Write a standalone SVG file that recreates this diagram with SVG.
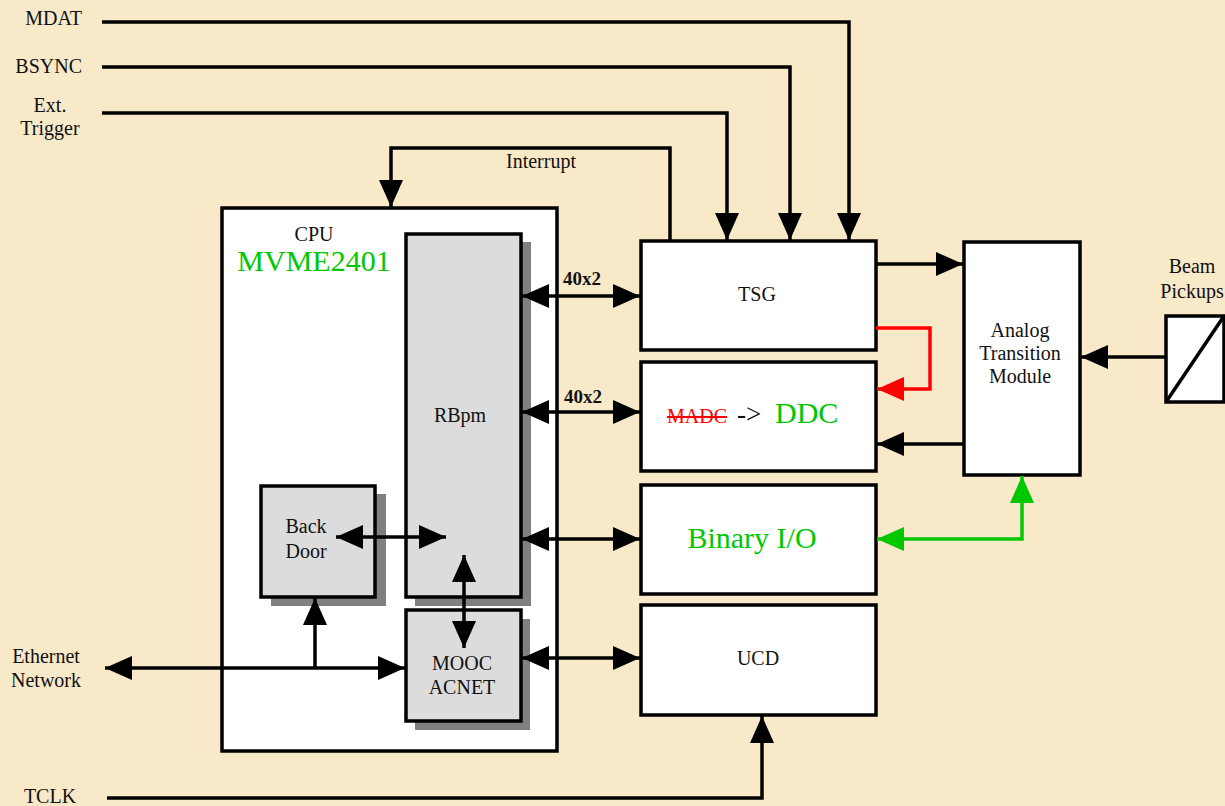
<svg xmlns="http://www.w3.org/2000/svg" width="1225" height="806" viewBox="0 0 1225 806">
<defs>
<style>
.t{font-family:'Liberation Serif','DejaVu Serif',serif;font-size:20px;fill:#111}
.box{fill:#fff;stroke:#000;stroke-width:3.5}
.gbox{fill:#DCDCDC;stroke:#000;stroke-width:3.5}
.shadow{fill:#808080}
.c{fill:none;stroke:#000;stroke-width:3.5}
.cr{fill:none;stroke:#FF0000;stroke-width:3.5}
.cg{fill:none;stroke:#00C800;stroke-width:3.5}
.mid{text-anchor:middle}
</style>
<marker id="ak" markerUnits="userSpaceOnUse" markerWidth="28" markerHeight="24" refX="27" refY="12" orient="auto-start-reverse"><path d="M0,0 L27,12 L0,24 z" fill="#000"/></marker>
<marker id="ar" markerUnits="userSpaceOnUse" markerWidth="28" markerHeight="24" refX="27" refY="12" orient="auto-start-reverse"><path d="M0,0 L27,12 L0,24 z" fill="#FF0000"/></marker>
<marker id="ag" markerUnits="userSpaceOnUse" markerWidth="28" markerHeight="24" refX="27" refY="12" orient="auto-start-reverse"><path d="M0,0 L27,12 L0,24 z" fill="#00C800"/></marker>
</defs>
<rect width="1225" height="806" fill="#F8E9C9"/>
<g class="t" font-family="'Liberation Serif', 'DejaVu Serif', serif">
<g id="labels">
<text x="82" y="25" text-anchor="end">MDAT</text>
<text x="82" y="73" text-anchor="end">BSYNC</text>
<text x="50" y="112" class="mid">Ext.</text>
<text x="50" y="135" class="mid">Trigger</text>
<text x="541" y="168" class="mid">Interrupt</text>
<text x="46" y="663" class="mid">Ethernet</text>
<text x="46" y="687" class="mid">Network</text>
<text x="50" y="803" class="mid">TCLK</text>
<text x="582" y="285" class="mid" font-weight="bold" font-size="19">40x2</text>
<text x="583" y="403" class="mid" font-weight="bold" font-size="19">40x2</text>
<text x="1192" y="273" class="mid">Beam</text>
<text x="1192" y="298" class="mid">Pickups</text>
</g>

<g id="cpu">
<rect class="box" x="222" y="208" width="335" height="543"/>
<text x="314" y="241" class="mid">CPU</text>
<text x="314" y="271" class="mid" font-size="30" fill="#00C800">MVME2401</text>
</g>
<g id="rbpm">
<rect class="shadow" x="415" y="242" width="116" height="364"/>
<rect class="gbox" x="406" y="234" width="115" height="363"/>
<text x="460" y="422" class="mid">RBpm</text>
</g>
<g id="backdoor">
<rect class="shadow" x="271" y="494" width="115" height="112"/>
<rect class="gbox" x="261" y="486" width="114" height="111"/>
<text x="306" y="533" class="mid">Back</text>
<text x="306" y="558" class="mid">Door</text>
</g>
<g id="mooc">
<rect class="shadow" x="415" y="619" width="115" height="111"/>
<rect class="gbox" x="406" y="610" width="115" height="111"/>
<text x="462" y="670" class="mid">MOOC</text>
<text x="462" y="694" class="mid">ACNET</text>
</g>
<g id="tsg">
<rect class="box" x="641" y="241" width="235" height="109"/>
<text x="757" y="301" class="mid">TSG</text>
</g>
<g id="ddc">
<rect class="box" x="641" y="362" width="235" height="109"/>
<text x="667" y="423" fill="#FF0000" text-decoration="line-through" style="fill:#FF0000">MADC</text>
<text x="737" y="423" font-size="27">-&gt;</text>
<text x="775" y="423" font-size="30" style="fill:#00C800">DDC</text>
</g>
<g id="binary">
<rect class="box" x="641" y="485" width="235" height="109"/>
<text x="752" y="548" class="mid" font-size="30" style="fill:#00C800">Binary I/O</text>
</g>
<g id="ucd">
<rect class="box" x="641" y="605" width="235" height="110"/>
<text x="758" y="665" class="mid">UCD</text>
</g>
<g id="atm">
<rect class="box" x="964" y="242" width="116" height="233"/>
<text x="1020" y="337" class="mid">Analog</text>
<text x="1020" y="360" class="mid">Transition</text>
<text x="1020" y="383" class="mid">Module</text>
</g>
<g id="pickup">
<rect class="box" x="1166" y="316" width="58" height="86"/>
<line x1="1166" y1="402" x2="1224" y2="316" stroke="#000" stroke-width="3.5"/>
</g>
</g>
<g id="connectors">
<path class="c" d="M102,22 H849 V240" marker-end="url(#ak)"/>
<path class="c" d="M102,67 H790 V240" marker-end="url(#ak)"/>
<path class="c" d="M102,113 H727 V240" marker-end="url(#ak)"/>
<path class="c" d="M670,240 V148 H391 V207" marker-end="url(#ak)"/>
<path class="c" d="M522,296 H640" marker-start="url(#ak)" marker-end="url(#ak)"/>
<path class="c" d="M522,412 H640" marker-start="url(#ak)" marker-end="url(#ak)"/>
<path class="c" d="M522,539 H640" marker-start="url(#ak)" marker-end="url(#ak)"/>
<path class="c" d="M522,658 H640" marker-start="url(#ak)" marker-end="url(#ak)"/>
<path class="c" d="M876,264 H963" marker-end="url(#ak)"/>
<path class="cr" d="M876,328 H930 V389 H877" marker-end="url(#ar)"/>
<path class="c" d="M963,444 H877" marker-end="url(#ak)"/>
<path class="c" d="M1166,357 H1081" marker-end="url(#ak)"/>
<path class="cg" d="M877,539 H1022 V476" marker-start="url(#ag)" marker-end="url(#ag)"/>
<path class="c" d="M107,798 H762 V716" marker-end="url(#ak)"/>
<path class="c" d="M105,668 H405" marker-start="url(#ak)" marker-end="url(#ak)"/>
<path class="c" d="M315,668 V598" marker-end="url(#ak)"/>
<path class="c" d="M336,537 H446" marker-start="url(#ak)" marker-end="url(#ak)"/>
<path class="c" d="M464,555 V648" marker-start="url(#ak)" marker-end="url(#ak)"/>
</g>
</svg>
